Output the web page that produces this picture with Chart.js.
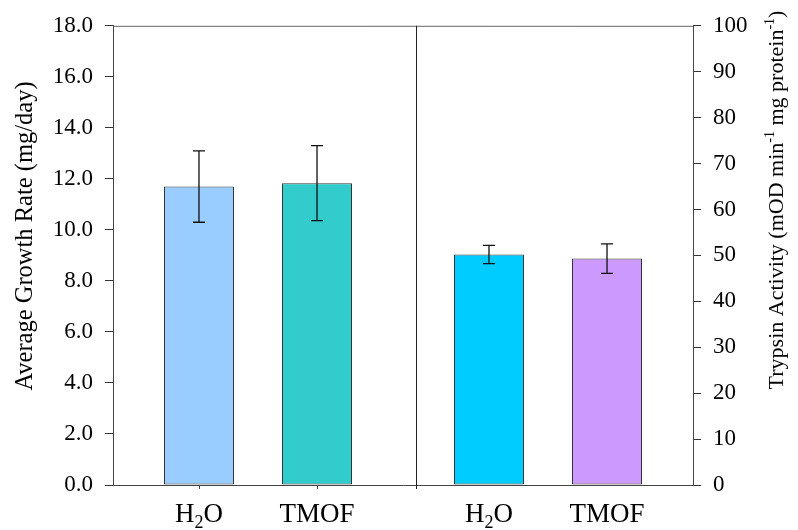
<!DOCTYPE html>
<html>
<head>
<meta charset="utf-8">
<script src="https://cdn.jsdelivr.net/npm/chart.js@4"></script>
<style>
  body { margin: 0; background: #fff; }
  canvas { display: block; }
</style>
</head>
<body>
<canvas id="growthChart" width="798" height="530"></canvas>
<script>
const treatments = ['H2O', 'TMOF'];
const growthMean = [11.7, 11.83];
const growthErr = [1.4, 1.47];
const trypsinMean = [50.2, 49.3];
const trypsinErr = [2.0, 3.2];
const growthColors = ['#99CCFF', '#33CCCC'];
const trypsinColors = ['#00CCFF', '#CC99FF'];

const serif = "'Liberation Serif', 'Times New Roman', serif";
const dividerAt = 0.545;

// one dataset per bar, nulls skipped so each panel holds two bars
const datasets = [];
treatments.forEach((t, i) => {
    datasets.push({
        label: t, data: [growthMean[i], null], err: [growthErr[i], null],
        yAxisID: 'yL', backgroundColor: growthColors[i]
    });
});
treatments.forEach((t, i) => {
    datasets.push({
        label: t, data: [null, trypsinMean[i]], err: [null, trypsinErr[i]],
        yAxisID: 'yR', backgroundColor: trypsinColors[i]
    });
});

function drawChem(ctx, text, x, y, size) {
    // digits become subscripts
    const runs = text.split(/(\d+)/).filter(s => s.length);
    const big = size + 'px ' + serif, small = Math.round(size * 0.66) + 'px ' + serif;
    let w = 0;
    runs.forEach(r => { ctx.font = /\d/.test(r) ? small : big; w += ctx.measureText(r).width; });
    let cx = x - w / 2;
    ctx.textAlign = 'left';
    ctx.textBaseline = 'alphabetic';
    runs.forEach(r => {
        const sub = /\d/.test(r);
        ctx.font = sub ? small : big;
        ctx.fillText(r, cx, sub ? y + 6 : y);
        cx += ctx.measureText(r).width;
    });
}

function drawRotated(ctx, parts, cx, cy, size) {
    const big = size + 'px ' + serif, small = Math.round(size * 0.62) + 'px ' + serif;
    let w = 0;
    parts.forEach(p => { ctx.font = p.sup ? small : big; w += ctx.measureText(p.t).width; });
    ctx.save();
    ctx.translate(cx, cy);
    ctx.rotate(-Math.PI / 2);
    ctx.textAlign = 'left';
    ctx.textBaseline = 'alphabetic';
    let x = -w / 2;
    parts.forEach(p => {
        ctx.font = p.sup ? small : big;
        ctx.fillText(p.t, x, p.sup ? -9 : 0);
        x += ctx.measureText(p.t).width;
    });
    ctx.restore();
}

const decorations = {
    id: 'decorations',
    afterDatasetsDraw(chart) {
        const ctx = chart.ctx;
        const area = chart.chartArea;
        const xs = chart.scales.x;
        ctx.save();
        // error bars
        ctx.strokeStyle = '#111';
        ctx.lineWidth = 1.3;
        chart.data.datasets.forEach((ds, i) => {
            const meta = chart.getDatasetMeta(i);
            const ys = chart.scales[ds.yAxisID];
            ds.data.forEach((v, j) => {
                if (v == null) return;
                const x = meta.data[j].x;
                const top = ys.getPixelForValue(v + ds.err[j]);
                const bot = ys.getPixelForValue(v - ds.err[j]);
                ctx.beginPath();
                ctx.moveTo(x, top); ctx.lineTo(x, bot);
                ctx.moveTo(x - 6, top); ctx.lineTo(x + 6, top);
                ctx.moveTo(x - 6, bot); ctx.lineTo(x + 6, bot);
                ctx.stroke();
            });
        });
        // frame top and panel divider
        ctx.lineWidth = 1;
        ctx.strokeStyle = '#666';
        ctx.beginPath();
        ctx.moveTo(area.left, area.top + 0.5); ctx.lineTo(area.right, area.top + 0.5);
        ctx.stroke();
        ctx.strokeStyle = '#222';
        const dx = Math.round(xs.getPixelForValue(dividerAt)) + 0.5;
        ctx.beginPath();
        ctx.moveTo(dx, area.top); ctx.lineTo(dx, area.bottom + 4);
        ctx.stroke();
        // category labels and ticks
        ctx.fillStyle = '#000';
        chart.data.datasets.forEach((ds, i) => {
            const meta = chart.getDatasetMeta(i);
            ds.data.forEach((v, j) => {
                if (v == null) return;
                const x = meta.data[j].x;
                if (ds.yAxisID === 'yL') {
                    ctx.strokeStyle = '#444';
                    ctx.beginPath();
                    ctx.moveTo(Math.round(x) + 0.5, area.bottom); ctx.lineTo(Math.round(x) + 0.5, area.bottom + 4);
                    ctx.stroke();
                }
                drawChem(ctx, ds.label, x, 522, 27);
            });
        });
        // axis titles
        drawRotated(ctx, [{ t: 'Average Growth Rate (mg/day)' }], 32, 236, 24.5);
        drawRotated(ctx, [
            { t: 'Trypsin Activity (mOD min' }, { t: '-1', sup: true },
            { t: ' mg protein' }, { t: '-1', sup: true }, { t: ')' }
        ], 783, 200, 22);
        ctx.restore();
    }
};

new Chart(document.getElementById('growthChart'), {
    type: 'bar',
    data: { labels: ['growth', 'trypsin'], datasets: datasets },
    options: {
        responsive: false,
        animation: false,
        layout: { padding: { top: 22, bottom: 0, left: 0, right: 0 } },
        datasets: {
            bar: {
                skipNull: true,
                categoryPercentage: 0.814,
                barPercentage: 0.593,
                borderWidth: 1,
                borderColor: '#333',
                borderSkipped: false
            }
        },
        plugins: { legend: { display: false }, tooltip: { enabled: false } },
        scales: {
            x: {
                ticks: { display: false },
                grid: { display: false },
                border: { display: true, color: '#444' },
                afterFit: s => { s.height = 45; }
            },
            yL: {
                position: 'left',
                min: 0, max: 18,
                ticks: {
                    stepSize: 2, padding: 12, color: '#000',
                    font: { family: serif, size: 23 },
                    callback: v => v.toFixed(1)
                },
                grid: { drawOnChartArea: false, tickLength: 8, color: '#333' },
                border: { display: true, color: '#444' },
                afterFit: s => { s.width = 113; }
            },
            yR: {
                position: 'right',
                min: 0, max: 100,
                ticks: {
                    stepSize: 10, padding: 12, color: '#000',
                    font: { family: serif, size: 23 }
                },
                grid: { drawOnChartArea: false, tickLength: 8, color: '#333' },
                border: { display: true, color: '#444' },
                afterFit: s => { s.width = 105; }
            }
        }
    },
    plugins: [decorations]
});
</script>
</body>
</html>
